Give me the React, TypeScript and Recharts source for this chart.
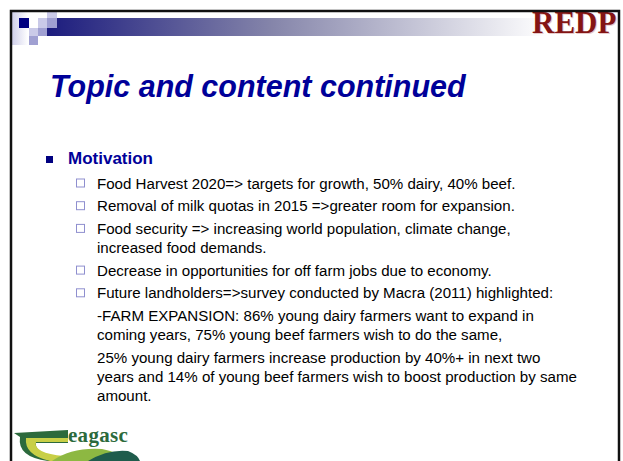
import React from "react";
import { ComposedChart, Customized } from "recharts";

// slide text
const logoText = "REDP";
const titleText = "Topic and content continued";
const headingText = "Motivation";
const footerLogoText = "eagasc";

const bulletItems: { bullet: boolean; lines: string[] }[] = [
  { bullet: true, lines: ["Food Harvest 2020=> targets for growth, 50% dairy, 40% beef."] },
  { bullet: true, lines: ["Removal of milk quotas in 2015 =>greater room for expansion."] },
  {
    bullet: true,
    lines: ["Food security => increasing world population, climate change,", "increased food demands."],
  },
  { bullet: true, lines: ["Decrease in opportunities for off farm jobs due to economy."] },
  { bullet: true, lines: ["Future landholders=>survey conducted by Macra (2011) highlighted:"] },
  {
    bullet: false,
    lines: [
      "-FARM EXPANSION: 86% young dairy farmers want to expand in",
      "coming years, 75% young beef farmers wish to do the same,",
    ],
  },
  {
    bullet: false,
    lines: [
      "25% young dairy farmers increase production by 40%+ in next two",
      "years and 14% of young beef farmers wish to boost production by same",
      "amount.",
    ],
  },
];

const W = 623;
const H = 461;
const sans = "'Liberation Sans', Arial, sans-serif";
const navy = "#000099";

function Header() {
  return (
    <g>
      <defs>
        <linearGradient id="headBar" x1="0" x2="1" y1="0" y2="0">
          <stop offset="0%" stopColor="#1c1c7e" />
          <stop offset="45%" stopColor="#8585aa" />
          <stop offset="100%" stopColor="#ffffff" />
        </linearGradient>
        <linearGradient id="sideStrip" x1="0" x2="1" y1="0" y2="0">
          <stop offset="0%" stopColor="#cfcfea" />
          <stop offset="100%" stopColor="#ffffff" />
        </linearGradient>
      </defs>
      <rect x={12} y={12} width={16} height={33} fill="url(#sideStrip)" />
      <rect x={47} y={18} width={500} height={18} fill="url(#headBar)" />
      <rect x={19} y={18} width={10} height={10} fill="#000080" />
      <rect x={38} y={18} width={9} height={10} fill="#cacae8" />
      <rect x={47} y={12} width={10} height={6} fill="#cacae8" />
      <rect x={47} y={18} width={10} height={10} fill="#a0a0d2" />
      <rect x={29} y={28} width={9} height={8} fill="#cacae8" />
      <rect x={38} y={28} width={9} height={8} fill="#a0a0d2" />
      <rect x={29} y={36} width={9} height={9} fill="#a0a0d2" />
      <text x={533} y={34} fontFamily="'Liberation Serif', 'Times New Roman', serif" fontWeight="bold"
        fontSize={31} fill="#d8a8a8" opacity={0.6}>{logoText}</text>
      <text x={532} y={33} fontFamily="'Liberation Serif', 'Times New Roman', serif" fontWeight="bold"
        fontSize={31} fill="#841414">{logoText}</text>
    </g>
  );
}

function FooterLogo() {
  const dark = "#2c6a3c";
  return (
    <g>
      <path d="M14,433 L68,430 L68,437 L20,437 Z" fill={dark} />
      <path d="M20,437 Q17,457 48,461 L66,461 Q34,454 36,443 L68,443 L68,437 Z" fill={dark} />
      <path d="M26,438 L68,438 L68,442 L36,442 Q33,453 64,456 L72,461 L50,461 Q24,455 26,438 Z" fill="#c8cf46" />
      <path d="M52,461 Q72,447 102,449 Q120,452 126,461 Z" fill="#8db842" />
      <path d="M88,461 Q108,449 128,451 Q138,455 140,461 Z" fill="#1f5c4c" />
      <text x={68} y={442} fontFamily="'Liberation Serif', serif" fontWeight="bold" fontSize={21}
        letterSpacing={0.3} fill={dark}>{footerLogoText}</text>
    </g>
  );
}

function SlideBody() {
  const paraGap = 22.7;
  const lineGap = 19;
  let y = 188.5 - paraGap;
  const rows: React.ReactNode[] = [];
  bulletItems.forEach((item, i) => {
    item.lines.forEach((line, j) => {
      y += j === 0 ? paraGap : lineGap;
      if (item.bullet && j === 0) {
        rows.push(
          <rect key={`b${i}`} x={76.5} y={y - 9.5} width={8} height={8} fill="none" stroke="#8f8fcf" strokeWidth={1} />
        );
      }
      rows.push(
        <text key={`t${i}-${j}`} x={97} y={y} fontFamily={sans} fontSize={15.1} fill="#000">
          {line}
        </text>
      );
    });
  });

  return (
    <g>
      <rect x={0} y={0} width={W} height={H} fill="#fff" />
      <Header />
      <rect x={11} y={11} width={608} height={470} fill="none" stroke="#111" strokeWidth={2.5} />
      <text x={50} y={97} fontFamily={sans} fontWeight="bold" fontStyle="italic" fontSize={30.5} fill={navy}>
        {titleText}
      </text>
      <rect x={46} y={156} width={7} height={7} fill="#000080" />
      <text x={68} y={164} fontFamily={sans} fontWeight="bold" fontSize={17} fill={navy}>
        {headingText}
      </text>
      {rows}
      <FooterLogo />
    </g>
  );
}

export default function App() {
  return (
    <div style={{ position: "absolute", left: 0, top: 0, width: W, height: H, background: "#fff" }}>
      <ComposedChart width={W} height={H} data={[]} margin={{ top: 0, right: 0, bottom: 0, left: 0 }}>
        <Customized component={<SlideBody />} />
      </ComposedChart>
    </div>
  );
}
